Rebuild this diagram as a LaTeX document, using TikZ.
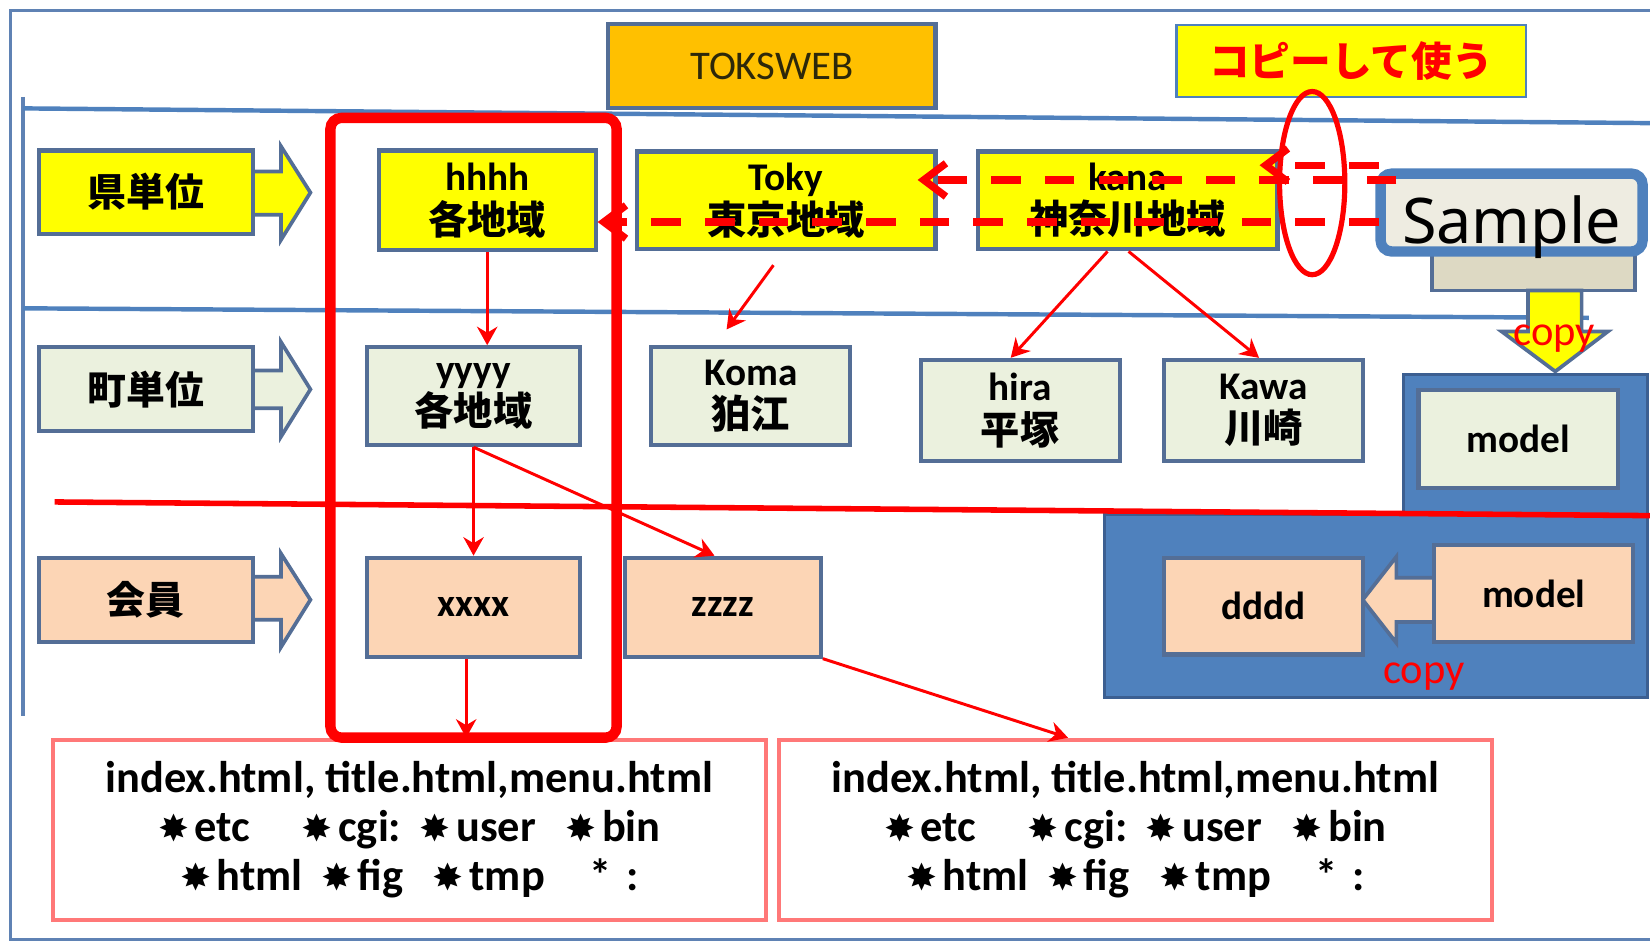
\documentclass[tikz,border=0pt]{standalone}
\usepackage{fontspec}
\setmainfont{Carlito}
\newfontfamily\jp{Noto Sans CJK JP}
\newfontfamily\symf{DejaVu Sans}
\newfontfamily\samplef{Noto Sans}
\usetikzlibrary{arrows.meta,shapes.geometric}
\definecolor{bord}{RGB}{84,110,150}
\definecolor{framec}{RGB}{95,130,180}
\definecolor{rowc}{RGB}{79,129,189}
\definecolor{gfill}{RGB}{235,241,222}
\definecolor{pfill}{RGB}{252,213,181}
\definecolor{orng}{RGB}{255,192,0}
\definecolor{bfill}{RGB}{79,129,189}
\definecolor{bdark}{RGB}{60,95,145}
\definecolor{sfill}{RGB}{238,236,225}
\definecolor{tfill}{RGB}{221,217,195}
\definecolor{pinkc}{RGB}{255,120,120}
\definecolor{ylw}{RGB}{255,255,0}
\newcommand\jpt[1]{{\jp\bfseries #1}}
\newcommand\hast{{\symf\mdseries\fontsize{10}{10}\selectfont ✸}\kern1.5pt}
\begin{document}
\begin{tikzpicture}[x=0.01cm,y=-0.01cm,
  area/.style n args={4}{at={({(#1+#3)/2},{(#2+#4)/2})},
    minimum width={(#3-#1)*0.01cm}, minimum height={(#4-#2)*0.01cm}},
  bx/.style={draw=bord, line width=1.1pt, inner sep=0pt, align=center,
    font=\bfseries\fontsize{10.6}{11.8}\selectfont},
  lbl/.style={bx, font=\jp\bfseries\fontsize{10.5}{11}\selectfont},
  barrow/.style={draw=bord, line width=1pt, line join=miter},
  bot/.style={draw=pinkc, line width=1.1pt, fill=white, inner sep=0pt, align=center,
    font=\bfseries\fontsize{12}{13.2}\selectfont},
  ra/.style={draw=red, line width=0.8pt, -{Stealth[length=5pt,width=5.5pt]}},
  dsh/.style={draw=red, line width=2pt, dash pattern=on 8pt off 6.5pt,
    -{Straight Barb[length=6pt,width=9pt]}},
  copytxt/.style={text=red, inner sep=0pt, font=\fontsize{11.5}{12}\selectfont}]
\useasboundingbox (0,0) rectangle (1568,900);
% frame
\draw[framec, line width=0.9pt] (1568,10) -- (10,10) -- (10,893) -- (1568,893);
\draw[framec, line width=0.9pt] (22,92) -- (22,680);
\draw[rowc, line width=1.2pt] (22,103) -- (1568,117);
\draw[rowc, line width=1.2pt] (22,293) -- (1510,302);
% left block arrows
\draw[barrow, fill=ylw] (230,163) -- (267,163) -- (267,139) -- (295,183) -- (267,228) -- (267,204) -- (230,204) -- cycle;
\draw[barrow, fill=gfill] (230,352) -- (267,352) -- (267,325) -- (295,370) -- (267,415) -- (267,388) -- (230,388) -- cycle;
\draw[barrow, fill=pfill] (230,548) -- (267,548) -- (267,526) -- (295,570) -- (267,615) -- (267,589) -- (230,589) -- cycle;
\node[lbl, fill=ylw, area={37}{143}{240}{222}] (ken) {県単位};
\node[lbl, fill=gfill, area={37}{330}{240}{410}] (machi) {町単位};
\node[lbl, fill=pfill, area={37}{530}{240}{610}] (kaiin) {会員};
% top boxes
\node[bx, fill=orng, area={578}{23}{889}{103}, font=\fontsize{11}{12}\selectfont, text={rgb,255:red,45;green,40;blue,10}] (tok) {TOKSWEB};
\node[draw=bfill, line width=0.6pt, fill=ylw, inner sep=0pt, area={1118}{24}{1450}{92}, text=red, font=\jp\bfseries\fontsize{11}{12}\selectfont] (copyuse) {コピーして使う};
% row 1
\node[bx, fill=ylw, area={360}{143}{566}{238}] (hh) {hhhh\\\jpt{各地域}};
\node[bx, fill=ylw, area={605}{144}{889}{237}] (toky) {Toky\\\jpt{東京地域}};
\node[bx, fill=ylw, area={929}{144}{1214}{237}] (kana) {kana\\\jpt{神奈川地域}};
% row 2
\node[bx, fill=gfill, area={349}{330}{551}{423}] (yy) {yyyy\\\jpt{各地域}};
\node[bx, fill=gfill, area={619}{330}{808}{423}] (koma) {Koma\\\jpt{狛江}};
\node[bx, fill=gfill, area={875}{342}{1064}{438}] (hira) {hira\\\jpt{平塚}};
\node[bx, fill=gfill, area={1106}{342}{1295}{438}] (kawa) {Kawa\\\jpt{川崎}};
% row 3
\node[bx, fill=pfill, area={349}{530}{551}{624}] (xx) {xxxx};
\node[bx, fill=pfill, area={594}{530}{780}{624}] (zz) {zzzz};
% right side: sample and copies
\node[draw=bord, line width=1pt, fill=tfill, inner sep=0pt, area={1361}{230}{1554}{276}] (tan) {};
\draw[barrow, fill=ylw] (1452,276) -- (1503,276) -- (1503,315) -- (1528,315) -- (1478,353) -- (1427,315) -- (1452,315) -- cycle;
\node[copytxt] (copy1) at (1477,322) {copy};
\node[draw=bfill, line width=2.8pt, rounded corners=3pt, fill=sfill, inner sep=0pt, text depth=0pt,
  area={1312}{165}{1561}{239}, font=\samplef\fontsize{17}{17}\selectfont] (smp) {\raisebox{-4pt}{Sample}};
\node[draw=bdark, line width=0.8pt, fill=bfill, inner sep=0pt, area={1334}{356}{1566}{489}] (bup) {};
\node[draw=bdark, line width=0.8pt, fill=bfill, inner sep=0pt, area={1050}{489}{1566}{663}] (blow) {};
\node[bx, fill=gfill, area={1348}{371}{1538}{464}] (model1) {model};
\draw[barrow, fill=pfill] (1375,549) -- (1327,549) -- (1327,529) -- (1295,570) -- (1327,611) -- (1327,591) -- (1375,591) -- cycle;
\node[bx, fill=pfill, area={1106}{530}{1295}{622}] (dd) {dddd};
\node[bx, fill=pfill, area={1363}{518}{1552}{610}] (model2) {model};
\node[copytxt] (copy2) at (1353,643) {copy};
% red slanted line
\draw[red, line width=1.5pt] (52,477) -- (1568,490);
% bottom boxes
\node[bot, area={50}{703}{728}{874}] (bl) {index.html, title.html,menu.html\\
  \hast etc\hspace{14pt}\hast cgi:\hspace{5pt}\hast user\hspace{8pt}\hast bin\\
  \hast html\hspace{5pt}\hast fig\hspace{8pt}\hast tmp\hspace{12pt}*\hspace{4pt}:};
\node[bot, area={740}{703}{1418}{874}] (br) {index.html, title.html,menu.html\\
  \hast etc\hspace{14pt}\hast cgi:\hspace{5pt}\hast user\hspace{8pt}\hast bin\\
  \hast html\hspace{5pt}\hast fig\hspace{8pt}\hast tmp\hspace{12pt}*\hspace{4pt}:};
% big red frame
\node[draw=red, line width=2.8pt, rounded corners=3pt, inner sep=0pt, area={314}{112}{586}{701}] (redbox) {};
% thin connectors
\draw[ra] (hh.south) -- (hh.south |- yy.north);
\coordinate (ks) at (735,252);
\draw[ra] (ks) -- ([shift={(-23,-15)}]koma.north);
\draw[ra] ([shift={(-19,0)}]kana.south) -- ([shift={(-9,0)}]hira.north);
\draw[ra] ([shift={(1,0)}]kana.south) -- ([shift={(-4,0)}]kawa.north);
\draw[ra] (yy.south) -- (xx.north);
\draw[ra] (yy.south) -- ([shift={(-8,0)}]zz.north);
\draw[ra] ([shift={(-7,0)}]xx.south) -- ([shift={(-7,0)}]xx.south |- bl.north);
\draw[ra] (zz.south east) -- ([shift={(-64,0)}]br.north);
% dashed copy arrows
\coordinate (s1) at (1310,157);
\coordinate (t1) at (1197,157);
\coordinate (s2) at (1327,171);
\coordinate (t2) at (872,171);
\coordinate (s3) at (1310,211);
\draw[dsh] (s1) -- (t1);
\draw[dsh] (s2) -- (t2);
\draw[dsh] (s3) -- (hh.east |- s3);
\node[draw=red, line width=1.4pt, ellipse, inner sep=0pt, minimum width=0.62cm, minimum height=1.74cm] (ell) at (1247,174) {};
\end{tikzpicture}
\end{document}
